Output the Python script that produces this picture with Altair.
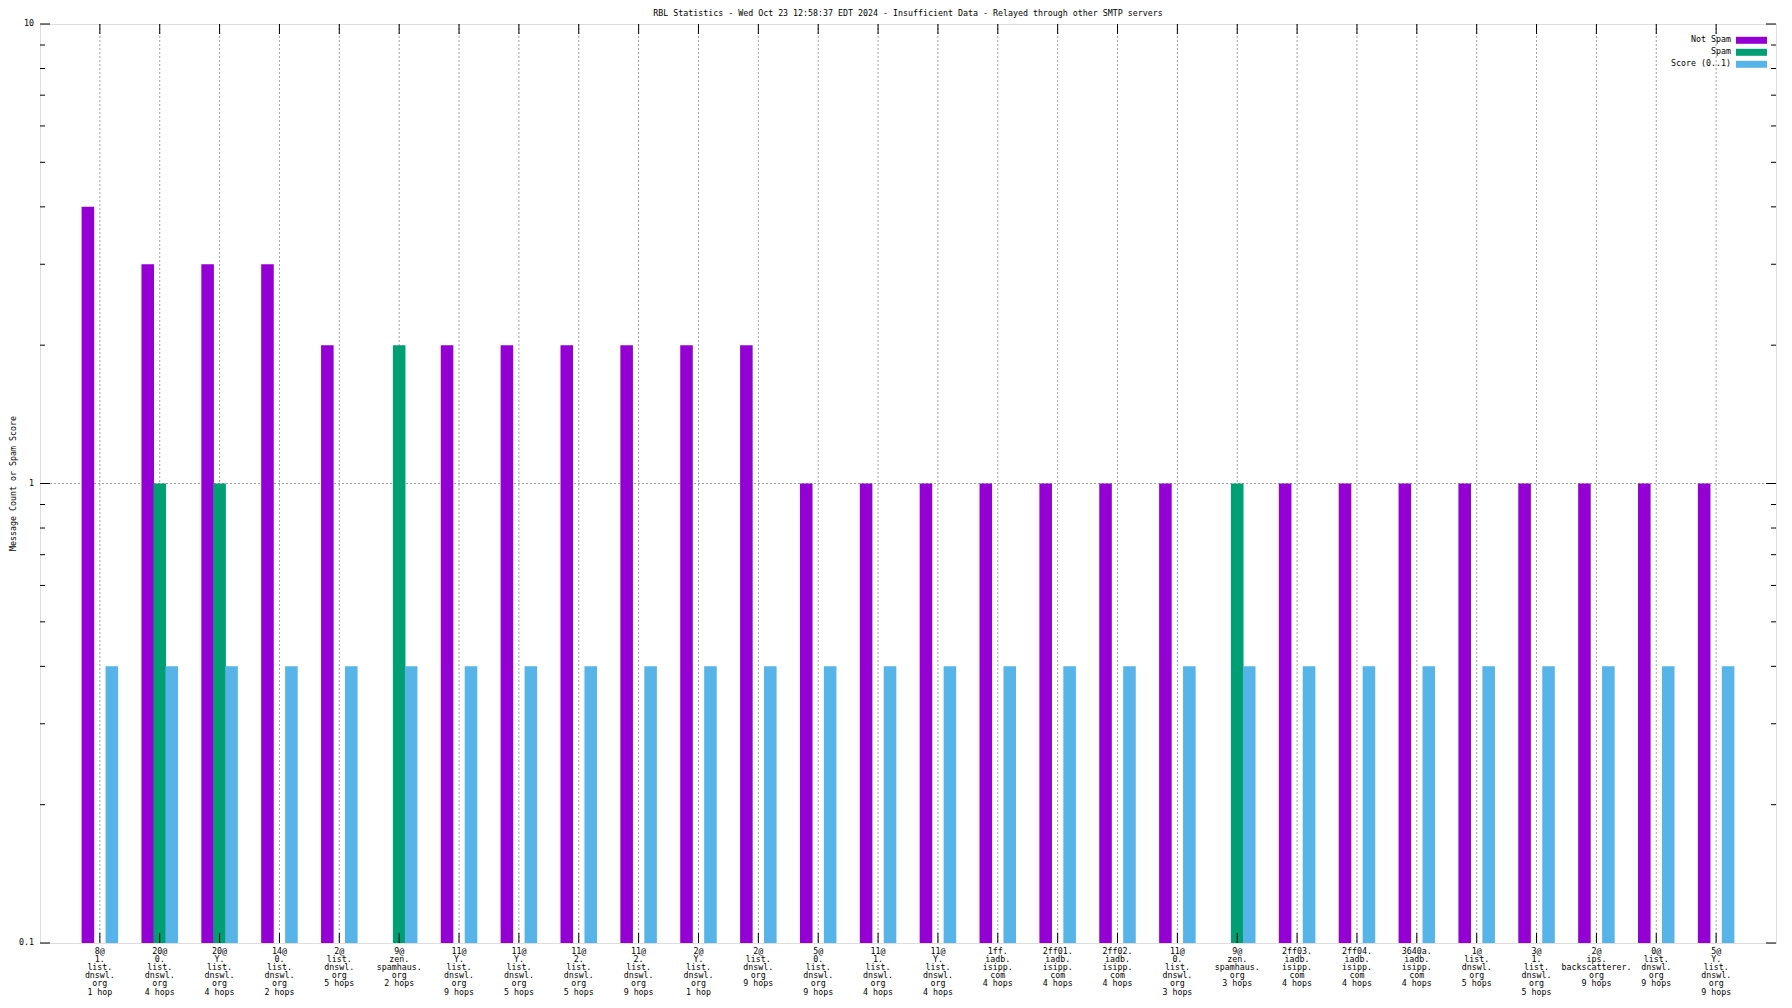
import altair as alt
import pandas as pd

# ---------------- data ----------------
labels = [
    "8@\n1.\nlist.\ndnswl.\norg\n1 hop",
    "20@\n0.\nlist.\ndnswl.\norg\n4 hops",
    "20@\nY.\nlist.\ndnswl.\norg\n4 hops",
    "14@\n0.\nlist.\ndnswl.\norg\n2 hops",
    "2@\nlist.\ndnswl.\norg\n5 hops",
    "9@\nzen.\nspamhaus.\norg\n2 hops",
    "11@\nY.\nlist.\ndnswl.\norg\n9 hops",
    "11@\nY.\nlist.\ndnswl.\norg\n5 hops",
    "11@\n2.\nlist.\ndnswl.\norg\n5 hops",
    "11@\n2.\nlist.\ndnswl.\norg\n9 hops",
    "2@\nY.\nlist.\ndnswl.\norg\n1 hop",
    "2@\nlist.\ndnswl.\norg\n9 hops",
    "5@\n0.\nlist.\ndnswl.\norg\n9 hops",
    "11@\n1.\nlist.\ndnswl.\norg\n4 hops",
    "11@\nY.\nlist.\ndnswl.\norg\n4 hops",
    "1ff.\niadb.\nisipp.\ncom\n4 hops",
    "2ff01.\niadb.\nisipp.\ncom\n4 hops",
    "2ff02.\niadb.\nisipp.\ncom\n4 hops",
    "11@\n0.\nlist.\ndnswl.\norg\n3 hops",
    "9@\nzen.\nspamhaus.\norg\n3 hops",
    "2ff03.\niadb.\nisipp.\ncom\n4 hops",
    "2ff04.\niadb.\nisipp.\ncom\n4 hops",
    "3640a.\niadb.\nisipp.\ncom\n4 hops",
    "1@\nlist.\ndnswl.\norg\n5 hops",
    "3@\n1.\nlist.\ndnswl.\norg\n5 hops",
    "2@\nips.\nbackscatterer.\norg\n9 hops",
    "0@\nlist.\ndnswl.\norg\n9 hops",
    "5@\nY.\nlist.\ndnswl.\norg\n9 hops",
]
not_spam = [4, 3, 3, 3, 2, 0, 2, 2, 2, 2, 2, 2, 1, 1, 1, 1, 1, 1, 1, 0, 1, 1, 1, 1, 1, 1, 1, 1]
spam = [0, 1, 1, 0, 0, 2, 0, 0, 0, 0, 0, 0, 0, 0, 0, 0, 0, 0, 0, 1, 0, 0, 0, 0, 0, 0, 0, 0]
score = [0.4, 0.4, 0.4, 0.4, 0.4, 0.4, 0.4, 0.4, 0.4, 0.4, 0.4, 0.4, 0.4, 0.4,
         0.4, 0.4, 0.4, 0.4, 0.4, 0.4, 0.4, 0.4, 0.4, 0.4, 0.4, 0.4, 0.4, 0.4]
series_names = ["Not Spam", "Spam", "Score (0..1)"]
series_colors = ["#9400D3", "#009E73", "#56B4E9"]
series_offsets = [-0.2, 0.0, 0.2]
major_ticks = [0.1, 1, 10]
major_labels = ["0.1", "1", "10"]
minor_ticks = [0.2, 0.3, 0.4, 0.5, 0.6, 0.7, 0.8, 0.9, 2, 3, 4, 5, 6, 7, 8, 9]
title_text = ("RBL Statistics - Wed Oct 23 12:58:37 EDT 2024 - Insufficient Data - "
              "Relayed through other SMTP servers")
y_title = "Message Count or Spam Score"

# ---------------- layout ----------------
W, H = 1736, 919
FONT = "DejaVu Sans Mono"
FS = 8.3
HALF = 0.105
GRID = "#a0a0a0"

rows = []
for vals, name, off in zip([not_spam, spam, score], series_names, series_offsets):
    for i, v in enumerate(vals):
        if v > 0:
            rows.append({"idx": i, "series": name, "value": v, "off": off})
df = pd.DataFrame(rows)
idx_df = pd.DataFrame({"idx": list(range(len(labels))), "label": labels})

xscale = alt.Scale(domain=[-1, len(labels)], nice=False, zero=False)
yscale = alt.Scale(type="log", domain=[0.1, 10], nice=False)

# vertical dotted grid at every category
xgrid = alt.Chart(idx_df).mark_rule(color=GRID, strokeDash=[2, 2], strokeWidth=1).encode(
    x=alt.X("idx:Q", scale=xscale, axis=None))
# horizontal dotted grid at y = 1
ygrid = alt.Chart(pd.DataFrame({"v": [1]})).mark_rule(
    color=GRID, strokeDash=[2, 2], strokeWidth=1
).encode(y=alt.Y("v:Q", scale=yscale, axis=None))

bars = alt.Chart(df).transform_calculate(
    xa=f"datum.idx + datum.off - {HALF}",
    xb=f"datum.idx + datum.off + {HALF}",
    base="0.1",
).mark_bar().encode(
    x=alt.X("xa:Q", scale=xscale, axis=None),
    x2="xb:Q",
    y=alt.Y("value:Q", scale=yscale, axis=None),
    y2="base:Q",
    color=alt.Color("series:N", scale=alt.Scale(domain=series_names, range=series_colors), legend=None),
)

# x tick labels (multi-line)
xlabels = alt.Chart(idx_df).mark_text(
    font=FONT, fontSize=FS, color="black", align="center", baseline="top",
    lineBreak="\n", lineHeight=8.1
).encode(x=alt.X("idx:Q", scale=xscale, axis=None), y=alt.value(H + 4), text="label:N")

# y tick labels
ylabels = alt.Chart(pd.DataFrame({"v": major_ticks, "t": major_labels})).mark_text(
    font=FONT, fontSize=FS, color="black", align="right", baseline="middle"
).encode(y=alt.Y("v:Q", scale=yscale, axis=None), x=alt.value(-6), text="t:N")

# y title
ytitle = alt.Chart(pd.DataFrame({"t": [y_title]})).mark_text(
    font=FONT, fontSize=FS, color="black", align="center", baseline="middle", angle=270
).encode(text="t:N", x=alt.value(-26), y=alt.value(H / 2))

# chart title
ctitle = alt.Chart(pd.DataFrame({"t": [title_text]})).mark_text(
    font=FONT, fontSize=FS, color="black", align="center", baseline="middle"
).encode(text="t:N", x=alt.value(W / 2), y=alt.value(-10))

xt_bottom = alt.Chart(idx_df).mark_rule(color="black").encode(
    x=alt.X("idx:Q", scale=xscale, axis=None), y=alt.value(H), y2=alt.value(H - 10))
xt_top = alt.Chart(idx_df).mark_rule(color="black").encode(
    x=alt.X("idx:Q", scale=xscale, axis=None), y=alt.value(0), y2=alt.value(10))

layers = [xgrid, ygrid, bars, xlabels, ylabels, ytitle, ctitle, xt_bottom, xt_top]
for ticks, ln in [(major_ticks, 10), (minor_ticks, 5)]:
    tdf = pd.DataFrame({"v": ticks})
    layers.append(alt.Chart(tdf).mark_rule(color="black").encode(
        y=alt.Y("v:Q", scale=yscale, axis=None), x=alt.value(0), x2=alt.value(ln)))
    layers.append(alt.Chart(tdf).mark_rule(color="black").encode(
        y=alt.Y("v:Q", scale=yscale, axis=None), x=alt.value(W), x2=alt.value(W - ln)))

# manual legend (label left of swatch, as in the original)
for i, (name, col) in enumerate(zip(series_names, series_colors)):
    ly = 16.3 + 12 * i
    ld = pd.DataFrame({"t": [name]})
    layers.append(alt.Chart(ld).mark_text(
        align="right", baseline="middle", font=FONT, fontSize=FS, color="black"
    ).encode(text="t:N", x=alt.value(1691), y=alt.value(ly)))
    layers.append(alt.Chart(ld).mark_rect(color=col).encode(
        x=alt.value(1696), x2=alt.value(1727), y=alt.value(ly - 3.5), y2=alt.value(ly + 3.5)))

chart = alt.layer(*layers).properties(
    width=W, height=H,
    autosize=alt.AutoSizeParams(type="none"),
    padding={"left": 32, "top": 16, "right": 8, "bottom": 57},
).configure_view(stroke="black", strokeWidth=1).configure(background="white")

chart.save("out.html", embed_options={"renderer": "svg", "actions": False})
